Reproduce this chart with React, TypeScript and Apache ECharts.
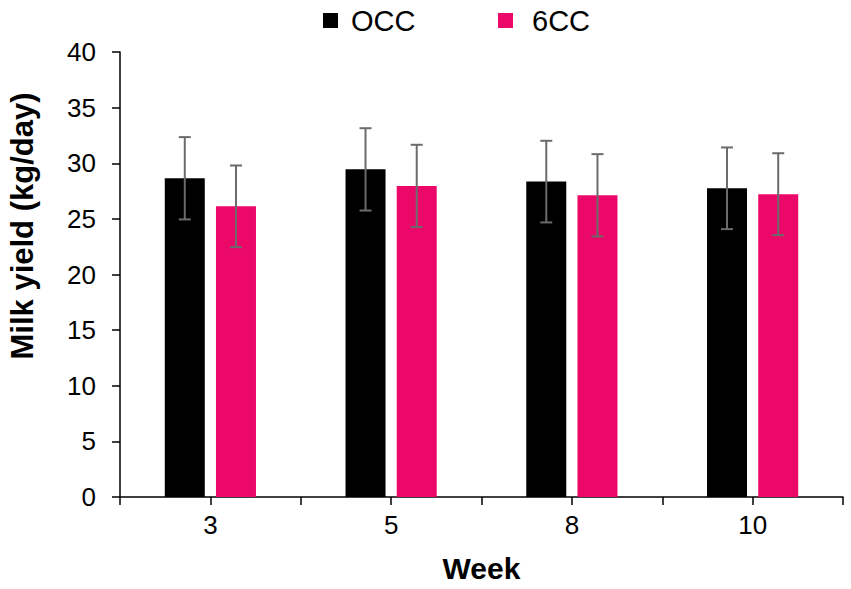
import React, { useEffect, useRef } from "react";
import * as echarts from "echarts";

const weeks = ["3", "5", "8", "10"];
const occMean = [28.65, 29.45, 28.35, 27.75];
const occSd = [3.7, 3.7, 3.67, 3.67];
const ccMean = [26.13, 27.96, 27.12, 27.22];
const ccSd = [3.67, 3.7, 3.7, 3.68];
const yTicks = { min: 0, max: 40, interval: 5 };

const FONT = "'Liberation Sans', Arial, sans-serif";
const PINK = "#EC0868";
const ERR = "#6b6b6b";

function errData(mean: number[], sd: number[]) {
  return mean.map((m, i) => [i, m - sd[i], m + sd[i]]);
}

function makeRenderer(offset: number) {
  return (params: any, api: any) => {
    const idx = api.value(0);
    const lo = api.coord([idx, api.value(1)]);
    const hi = api.coord([idx, api.value(2)]);
    const x = lo[0] + offset;
    const cap = 6;
    const style = { stroke: ERR, lineWidth: 2 };
    return {
      type: "group",
      children: [
        { type: "line", shape: { x1: x, y1: lo[1], x2: x, y2: hi[1] }, style },
        { type: "line", shape: { x1: x - cap, y1: hi[1], x2: x + cap, y2: hi[1] }, style },
        { type: "line", shape: { x1: x - cap, y1: lo[1], x2: x + cap, y2: lo[1] }, style },
      ],
    };
  };
}

export default function App() {
  const ref = useRef<HTMLDivElement>(null);
  useEffect(() => {
    document.body.style.margin = "0";
    if (!ref.current) return;
    const chart = echarts.init(ref.current, null, { renderer: "svg" });
    const barWidth = 40;
    const gapPct = 0.28;
    const off = (barWidth + barWidth * gapPct) / 2;
    chart.setOption({
      animation: false,
      textStyle: { fontFamily: FONT },
      grid: { left: 120, right: 8, top: 52, bottom: 92 },
      legend: [
        {
          data: ["OCC"],
          left: 323,
          top: 6,
          padding: 0,
          icon: "rect",
          itemWidth: 15,
          itemHeight: 15,
          selectedMode: false,
          textStyle: { fontSize: 29, color: "#000", fontFamily: FONT, padding: [0, 0, 0, 8] },
        },
        {
          data: ["6CC"],
          left: 498,
          top: 6,
          padding: 0,
          icon: "rect",
          itemWidth: 15,
          itemHeight: 15,
          selectedMode: false,
          textStyle: { fontSize: 29, color: "#000", fontFamily: FONT, padding: [0, 0, 0, 14] },
        },
      ],
      xAxis: [
        {
          type: "category",
          data: weeks,
          boundaryGap: true,
          axisLine: { show: true, lineStyle: { color: "#000", width: 1.5 } },
          axisTick: { show: false },
          axisLabel: { fontSize: 26, color: "#000", margin: 15, fontFamily: FONT },
          name: "Week",
          nameLocation: "middle",
          nameGap: 56,
          nameTextStyle: { fontSize: 30, fontWeight: "bold", color: "#000", fontFamily: FONT },
        },
        {
          type: "value",
          min: 0,
          max: 4,
          interval: 0.5,
          position: "bottom",
          axisLine: { show: false },
          axisTick: { show: true, length: 8, lineStyle: { color: "#000", width: 1.5 } },
          axisLabel: { show: false },
          splitLine: { show: false },
        },
      ],
      yAxis: {
        type: "value",
        min: yTicks.min,
        max: yTicks.max,
        interval: yTicks.interval,
        axisLine: { show: true, lineStyle: { color: "#000", width: 1.5 } },
        axisTick: { show: true, length: 8, lineStyle: { color: "#000", width: 1.5 } },
        axisLabel: { fontSize: 26, color: "#000", margin: 24, fontFamily: FONT },
        splitLine: { show: false },
      },
      graphic: [
        {
          type: "text",
          x: 22,
          y: 226,
          rotation: Math.PI / 2,
          style: {
            text: "Milk yield (kg/day)",
            fontSize: 31,
            fontWeight: "bold",
            fontFamily: FONT,
            fill: "#000",
            align: "center",
            verticalAlign: "middle",
          },
        },
      ],
      series: [
        {
          name: "OCC",
          type: "bar",
          data: occMean,
          barWidth,
          barGap: gapPct * 100 + "%",
          itemStyle: { color: "#000" },
          z: 2,
        },
        {
          name: "6CC",
          type: "bar",
          data: ccMean,
          barWidth,
          barGap: gapPct * 100 + "%",
          itemStyle: { color: PINK },
          z: 2,
        },
        {
          type: "custom",
          renderItem: makeRenderer(-off),
          data: errData(occMean, occSd),
          encode: { x: 0, y: [1, 2] },
          z: 5,
        },
        {
          type: "custom",
          renderItem: makeRenderer(off),
          data: errData(ccMean, ccSd),
          encode: { x: 0, y: [1, 2] },
          z: 5,
        },
      ],
    });
    return () => chart.dispose();
  }, []);
  return <div ref={ref} style={{ width: 851, height: 589 }} />;
}
